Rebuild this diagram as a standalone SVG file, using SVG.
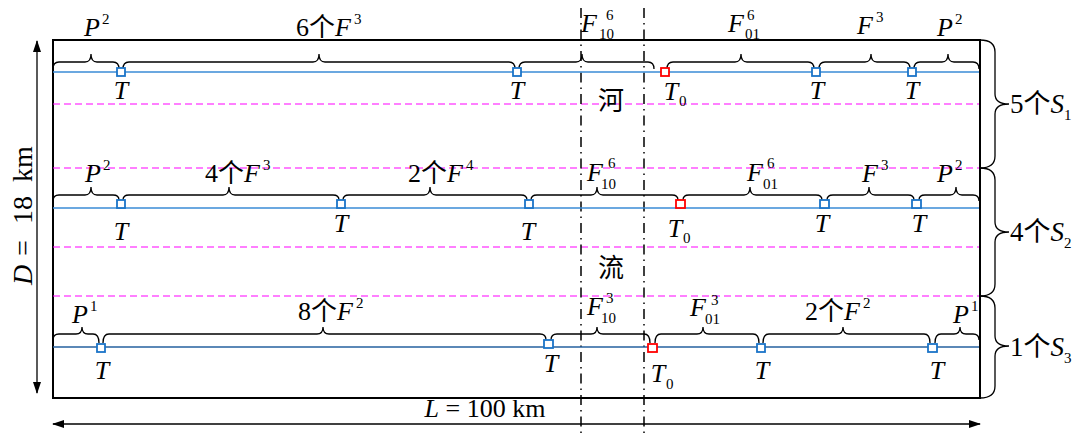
<svg xmlns="http://www.w3.org/2000/svg" width="1082" height="434" viewBox="0 0 1082 434">
<style>
.t{font-family:'Liberation Serif','Noto Sans CJK SC',serif;font-size:26px;fill:#000}
.i{font-style:italic}
.s{font-size:15px;font-style:normal}
.br{fill:none;stroke:#000;stroke-width:1.3}
.mg{stroke:#ff00ff;stroke-width:1.2;stroke-dasharray:7 4}
.dd{stroke:#000;stroke-width:1.5;stroke-dasharray:10 5 1.5 5}
.sq{fill:#fff;stroke:#1b74c8;stroke-width:1.8}
.sq0{fill:#fff;stroke:#f00;stroke-width:1.8}
.bl{stroke:#3a8bd6;stroke-width:1.5}
.bl2{stroke:#24609f;stroke-width:1.4}
.ar{stroke:#000;stroke-width:1.3}
</style>
<defs>
<marker id="arr" viewBox="0 0 12 8" refX="11" refY="4" markerWidth="12" markerHeight="8" markerUnits="userSpaceOnUse" orient="auto-start-reverse">
<path d="M0,0 L12,4 L0,8 z" fill="#000"/>
</marker>
</defs>
<rect width="1082" height="434" fill="#fff"/>

<g id="frame">
<rect x="53" y="40" width="927" height="358" fill="none" stroke="#000" stroke-width="2"/>
<line class="mg" x1="53" y1="104" x2="979" y2="104"/>
<line class="mg" x1="53" y1="168" x2="979" y2="168"/>
<line class="mg" x1="53" y1="247" x2="979" y2="247"/>
<line class="mg" x1="53" y1="296" x2="979" y2="296"/>
<line class="dd" x1="581" y1="8" x2="581" y2="434"/>
<line class="dd" x1="644" y1="8" x2="644" y2="434"/>
<text class="t" x="598" y="110">河</text>
<text class="t" x="598" y="277">流</text>
</g>

<g id="dimensions">
<line class="ar" x1="37" y1="41" x2="37" y2="393" marker-start="url(#arr)" marker-end="url(#arr)"/>
<line class="ar" x1="53" y1="424" x2="980" y2="424" marker-start="url(#arr)" marker-end="url(#arr)"/>
<g transform="translate(32,0) rotate(-90)" class="t" style="font-size:28px">
<text class="i" x="-285" y="0">D</text>
<text x="-256" y="0">=</text>
<text x="-224" y="0">18</text>
<text x="-182" y="0">km</text>
</g>
<text class="t" x="485" y="417" text-anchor="middle" style="font-size:26px"><tspan class="i">L</tspan> = 100 km</text>
</g>

<g id="connectors">
<line class="bl" x1="53" y1="72" x2="979" y2="72"/>
<line class="bl" x1="53" y1="208" x2="979" y2="208"/>
<line class="bl2" x1="53" y1="347" x2="979" y2="347"/>
</g>

<g id="braces-row1">
<path class="br" d="M53 69 Q53 62 59 62 L85 62 Q91 62 91 54 Q91 62 97 62 L113 62 Q119 62 119 69"/>
<path class="br" d="M123 69 Q123 62 129 62 L313 62 Q319 62 319 54 Q319 62 325 62 L509 62 Q515 62 515 69"/>
<path class="br" d="M519 69 Q519 62 525 62 L576 62 Q582 62 582 54 Q582 62 588 62 L648 62 Q654 62 654 69"/>
<path class="br" d="M667 69 Q667 62 673 62 L735 62 Q741 62 741 54 Q741 62 747 62 L808 62 Q814 62 814 69"/>
<path class="br" d="M819 69 Q819 62 825 62 L865 62 Q871 62 871 54 Q871 62 877 62 L904 62 Q910 62 910 69"/>
<path class="br" d="M914 69 Q914 62 920 62 L942 62 Q948 62 948 54 Q948 62 954 62 L973 62 Q979 62 979 69"/>
</g>
<g id="braces-row2">
<path class="br" d="M53 201 Q53 195 59 195 L85 195 Q91 195 91 187 Q91 195 97 195 L113 195 Q119 195 119 200"/>
<path class="br" d="M123 200 Q123 195 129 195 L223 195 Q229 195 229 187 Q229 195 235 195 L333 195 Q339 195 339 200"/>
<path class="br" d="M343 200 Q343 195 349 195 L424 195 Q430 195 430 187 Q430 195 436 195 L521 195 Q527 195 527 200"/>
<path class="br" d="M531 200 Q531 195 537 195 L591 195 Q597 195 597 187 Q597 195 603 195 L672 195 Q678 195 678 200"/>
<path class="br" d="M683 200 Q683 195 689 195 L744 195 Q750 195 750 187 Q750 195 756 195 L816 195 Q822 195 822 200"/>
<path class="br" d="M827 200 Q827 195 833 195 L863 195 Q869 195 869 187 Q869 195 875 195 L908 195 Q914 195 914 200"/>
<path class="br" d="M919 200 Q919 195 925 195 L950 195 Q956 195 956 187 Q956 195 962 195 L973 195 Q979 195 979 201"/>
</g>
<g id="braces-row3">
<path class="br" d="M53 340 Q53 334 59 334 L76 334 Q82 334 82 327 Q82 334 88 334 L93 334 Q99 334 99 343"/>
<path class="br" d="M103 343 Q103 334 109 334 L317 334 Q323 334 323 327 Q323 334 329 334 L540 334 Q546 334 546 340"/>
<path class="br" d="M551 340 Q551 334 557 334 L591 334 Q597 334 597 327 Q597 334 603 334 L644 334 Q650 334 650 343"/>
<path class="br" d="M655 343 Q655 334 661 334 L697 334 Q703 334 703 327 Q703 334 709 334 L753 334 Q759 334 759 343"/>
<path class="br" d="M763 343 Q763 334 769 334 L837 334 Q843 334 843 327 Q843 334 849 334 L924 334 Q930 334 930 343"/>
<path class="br" d="M935 343 Q935 334 941 334 L954 334 Q960 334 960 327 Q960 334 966 334 L973 334 Q979 334 979 340"/>
</g>
<g id="braces-right">
<path class="br" d="M980 40 Q995 40 995 52 L995 94 Q995 104 1009 104 Q995 104 995 114 L995 156 Q995 168 980 168"/>
<path class="br" d="M980 168 Q995 168 995 180 L995 222 Q995 232 1009 232 Q995 232 995 242 L995 284 Q995 296 980 296"/>
<path class="br" d="M980 296 Q995 296 995 308 L995 336 Q995 346 1009 346 Q995 346 995 356 L995 386 Q995 398 980 398"/>
<text class="t" x="1010" y="113" style="font-size:27px">5个<tspan class="i">S</tspan><tspan class="s" dy="7">1</tspan></text>
<text class="t" x="1010" y="241" style="font-size:27px">4个<tspan class="i">S</tspan><tspan class="s" dy="7">2</tspan></text>
<text class="t" x="1010" y="356" style="font-size:27px">1个<tspan class="i">S</tspan><tspan class="s" dy="7">3</tspan></text>
</g>

<g id="labels-row1">
<text class="t" x="84" y="36"><tspan class="i">P</tspan><tspan class="s" dx="2" dy="-12">2</tspan></text>
<text class="t" x="296" y="36">6个<tspan class="i">F</tspan><tspan class="s" dx="3" dy="-12">3</tspan></text>
<text class="t i" x="581" y="32">F</text><text class="t s" x="599" y="39">10</text><text class="t s" x="606" y="20">6</text>
<text class="t i" x="728" y="32">F</text><text class="t s" x="745" y="39">01</text><text class="t s" x="747" y="20">6</text>
<text class="t" x="857" y="34"><tspan class="i">F</tspan><tspan class="s" dx="3" dy="-12">3</tspan></text>
<text class="t" x="937" y="36"><tspan class="i">P</tspan><tspan class="s" dx="2" dy="-12">2</tspan></text>
</g>
<g id="labels-row2">
<text class="t" x="85" y="182"><tspan class="i">P</tspan><tspan class="s" dx="2" dy="-12">2</tspan></text>
<text class="t" x="205" y="182">4个<tspan class="i">F</tspan><tspan class="s" dx="3" dy="-12">3</tspan></text>
<text class="t" x="408" y="182">2个<tspan class="i">F</tspan><tspan class="s" dx="3" dy="-12">4</tspan></text>
<text class="t i" x="587" y="181">F</text><text class="t s" x="601" y="189">10</text><text class="t s" x="608" y="168">6</text>
<text class="t i" x="747" y="181">F</text><text class="t s" x="763" y="189">01</text><text class="t s" x="767" y="168">6</text>
<text class="t" x="862" y="182"><tspan class="i">F</tspan><tspan class="s" dx="3" dy="-12">3</tspan></text>
<text class="t" x="937" y="182"><tspan class="i">P</tspan><tspan class="s" dx="2" dy="-12">2</tspan></text>
</g>
<g id="labels-row3">
<text class="t" x="72" y="323"><tspan class="i">P</tspan><tspan class="s" dx="2" dy="-12">1</tspan></text>
<text class="t" x="298" y="320">8个<tspan class="i">F</tspan><tspan class="s" dx="3" dy="-12">2</tspan></text>
<text class="t i" x="587" y="315">F</text><text class="t s" x="601" y="323">10</text><text class="t s" x="606" y="303">3</text>
<text class="t i" x="690" y="316">F</text><text class="t s" x="705" y="324">01</text><text class="t s" x="711" y="305">3</text>
<text class="t" x="805" y="320">2个<tspan class="i">F</tspan><tspan class="s" dx="3" dy="-12">2</tspan></text>
<text class="t" x="953" y="323"><tspan class="i">P</tspan><tspan class="s" dx="2" dy="-12">1</tspan></text>
</g>

<g id="node-r1-t1"><rect class="sq" x="117" y="68" width="8" height="8"/><text class="t i" x="121" y="99" text-anchor="middle">T</text></g>
<g id="node-r1-t2"><rect class="sq" x="513" y="68" width="8" height="8"/><text class="t i" x="517" y="99" text-anchor="middle">T</text></g>
<g id="node-r1-t0"><rect class="sq0" x="661" y="68" width="8" height="8"/><text class="t i" x="671" y="100" text-anchor="middle">T</text><text class="t s" x="679" y="106">0</text></g>
<g id="node-r1-t3"><rect class="sq" x="812" y="68" width="8" height="8"/><text class="t i" x="817" y="99" text-anchor="middle">T</text></g>
<g id="node-r1-t4"><rect class="sq" x="908" y="68" width="8" height="8"/><text class="t i" x="912" y="99" text-anchor="middle">T</text></g>

<g id="node-r2-t1"><rect class="sq" x="117" y="200" width="8" height="8"/><text class="t i" x="121" y="240" text-anchor="middle">T</text></g>
<g id="node-r2-t2"><rect class="sq" x="337" y="200" width="8" height="8"/><text class="t i" x="341" y="232" text-anchor="middle">T</text></g>
<g id="node-r2-t3"><rect class="sq" x="525" y="200" width="8" height="8"/><text class="t i" x="528" y="240" text-anchor="middle">T</text></g>
<g id="node-r2-t0"><rect class="sq0" x="676" y="200" width="9" height="8"/><text class="t i" x="675" y="237" text-anchor="middle">T</text><text class="t s" x="683" y="243">0</text></g>
<g id="node-r2-t4"><rect class="sq" x="820" y="200" width="9" height="8"/><text class="t i" x="822" y="232" text-anchor="middle">T</text></g>
<g id="node-r2-t5"><rect class="sq" x="912" y="200" width="9" height="8"/><text class="t i" x="919" y="232" text-anchor="middle">T</text></g>

<g id="node-r3-t1"><rect class="sq" x="97" y="344" width="8" height="8"/><text class="t i" x="102" y="379" text-anchor="middle">T</text></g>
<g id="node-r3-t2"><rect class="sq" x="544" y="340" width="9" height="8"/><text class="t i" x="551" y="372" text-anchor="middle">T</text></g>
<g id="node-r3-t0"><rect class="sq0" x="648" y="344" width="9" height="8"/><text class="t i" x="658" y="382" text-anchor="middle">T</text><text class="t s" x="666" y="389">0</text></g>
<g id="node-r3-t3"><rect class="sq" x="757" y="344" width="8" height="8"/><text class="t i" x="762" y="379" text-anchor="middle">T</text></g>
<g id="node-r3-t4"><rect class="sq" x="928" y="344" width="9" height="8"/><text class="t i" x="937" y="379" text-anchor="middle">T</text></g>
</svg>
